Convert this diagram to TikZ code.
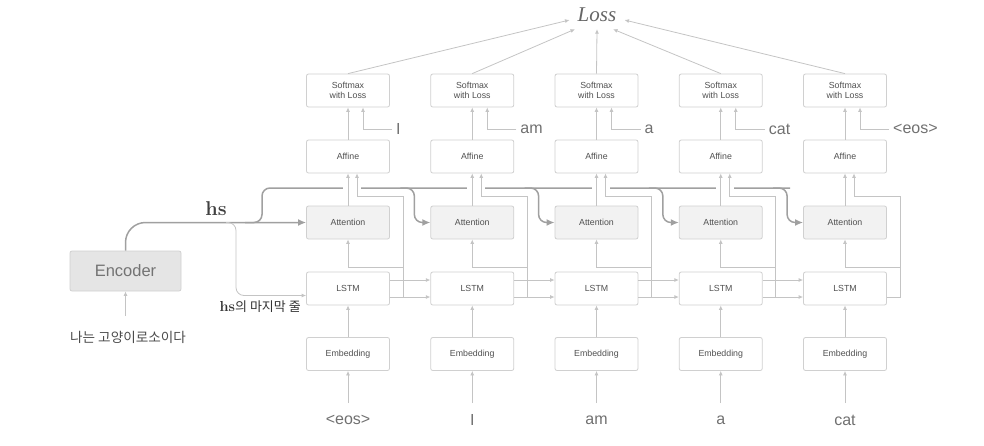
\documentclass[tikz,border=0pt]{standalone}
\usepackage{fontspec}
\newfontfamily\sans{Liberation Sans}
\newfontfamily\serifit{Liberation Serif}
\newfontfamily\kr{Noto Sans CJK KR}
\usetikzlibrary{arrows.meta,calc}
\definecolor{ln}{HTML}{C4C4C4}
\definecolor{bd}{HTML}{D0D0D0}
\definecolor{hsc}{HTML}{A0A0A0}
\definecolor{txt}{HTML}{505050}
\definecolor{wordc}{HTML}{707070}
\begin{document}
\begin{tikzpicture}[x=1pt,y=-1pt,
  box/.style={draw=bd, line width=0.8pt, rounded corners=2pt, fill=white,
    minimum width=83pt, minimum height=33pt, inner sep=0pt,
    font=\sans\fontsize{8.8}{10}\selectfont, text=txt, align=center},
  attbox/.style={box, fill=black!5},
  encbox/.style={draw=bd, line width=0.8pt, rounded corners=2pt, fill=black!10,
    minimum width=111pt, minimum height=40pt, inner sep=0pt,
    font=\sans\fontsize{16.5}{18}\selectfont, text=black!55},
  conn/.style={draw=ln, line width=0.8pt, -{Latex[length=4.5pt,width=4pt]}},
  hsline/.style={draw=hsc, line width=1.5pt, rounded corners=8pt},
  hsarrow/.style={hsline, -{Latex[length=8pt,width=7pt]}},
  wordlbl/.style={font=\sans\fontsize{16}{18}\selectfont, text=wordc, inner sep=0pt},
]
\useasboundingbox (0,0) rectangle (984,445);

% nodes per column
\foreach \i/\cx/\inw/\outw in {1/348/{<eos>}/I, 2/472.25/I/am, 3/596.5/am/a, 4/720.75/a/cat, 5/845/cat/{<eos>}} {
  \node[box] (emb\i) at (\cx,354) {Embedding};
  \node[box] (lstm\i) at (\cx,288.5) {LSTM};
  \node[attbox] (att\i) at (\cx,222.5) {Attention};
  \node[box] (aff\i) at (\cx,156.5) {Affine};
  \node[box] (sm\i) at (\cx,90.5) {Softmax\\with Loss};
  \node[wordlbl] (in\i) at (\cx,420) {\inw};
  \node[wordlbl, anchor=west] (out\i) at (\cx+48,129) {\outw};
  \coordinate (inp\i) at (\cx,403);
}

% Loss
\node[font=\serifit\itshape\fontsize{21}{23}\selectfont, text=black!60, inner sep=0pt] (loss) at (597,15) {Loss};

% Encoder
\node[encbox] (enc) at (125.5,271) {Encoder};
\node[font=\kr\fontsize{13.6}{15}\selectfont, text=black!70, inner sep=0pt] (kor) at (128,337) {나는 고양이로소이다};
\coordinate (korin) at (125.5,316);
\draw[conn] (korin) -- (enc.south);

% hs lines
\draw[hsarrow, rounded corners=20pt] (enc.north) |- (att1.west);
\draw[hsline] (245,222.5) -- (262,222.5) -- (262,188) -- (790,188);
\foreach \i in {2,...,5} {
  \draw[hsarrow] ($(att\i.west)+(-30,-34.5)$) -- ($(att\i.west)+(-16,-34.5)$)
    -- ($(att\i.west)+(-16,0)$) -- (att\i.west);
}
\node[font=\bfseries\fontsize{20}{22}\selectfont, text=black!75, inner sep=0pt] (hs) at (216,209) {hs};

% thin branch to first LSTM
\draw[conn, rounded corners=8pt] (226,222.5) -- (236,222.5) -- (236,295.5) -- ($(lstm1.west)+(0,7)$);
\node[anchor=east, inner sep=0pt, text=black!80] (hslast) at (301,307)
  {\bfseries\fontsize{14.5}{16}\selectfont hs\mdseries\kr\fontsize{13}{15}\selectfont 의 마지막 줄};

% gaps in the hs line where verticals cross
\foreach \i in {1,...,4} {
  \fill[white] ($(att\i.north)+(-5,-21)$) rectangle ($(att\i.north)+(13,-15)$);
}

% column connectors
\foreach \i/\cx in {1/348, 2/472.25, 3/596.5, 4/720.75, 5/845} {
  \draw[conn] (inp\i) -- (emb\i.south);
  \draw[conn] (emb\i) -- (lstm\i);
  \draw[conn] (att\i) -- (aff\i);
  \draw[conn] (aff\i) -- (sm\i);
  \draw[conn] ($(lstm\i.east)+(0,8.5)$) -- (\cx+55,297) -- (\cx+55,196) -- (\cx+9,196) -- ($(aff\i.south)+(9,0)$);
  \draw[conn] (\cx+55,267) -- (\cx,267) -- (att\i.south);
  \draw[conn] ($(out\i.west)+(-4,0)$) -- (\cx+15,129) -- ($(sm\i.south)+(15,0)$);
}
\foreach \i/\j in {1/2, 2/3, 3/4, 4/5} {
  \draw[conn] ($(lstm\i.east)+(0,-8.5)$) -- ($(lstm\j.west)+(0,-8.5)$);
  \draw[conn] ($(lstm\i.east)+(0,8.5)$) -- ($(lstm\j.west)+(0,8.5)$);
}

% to Loss
\draw[conn] (sm1.north) -- ($(loss.west)+(-8,5)$);
\draw[conn] (sm2.north) -- ($(loss.south)+(-22,7)$);
\draw[conn] (sm3.north) -- ($(loss.south)+(0,7)$);
\draw[conn] (sm4.north) -- ($(loss.south)+(16,7)$);
\draw[conn] (sm5.north) -- ($(loss.east)+(8,5)$);
\end{tikzpicture}
\end{document}
